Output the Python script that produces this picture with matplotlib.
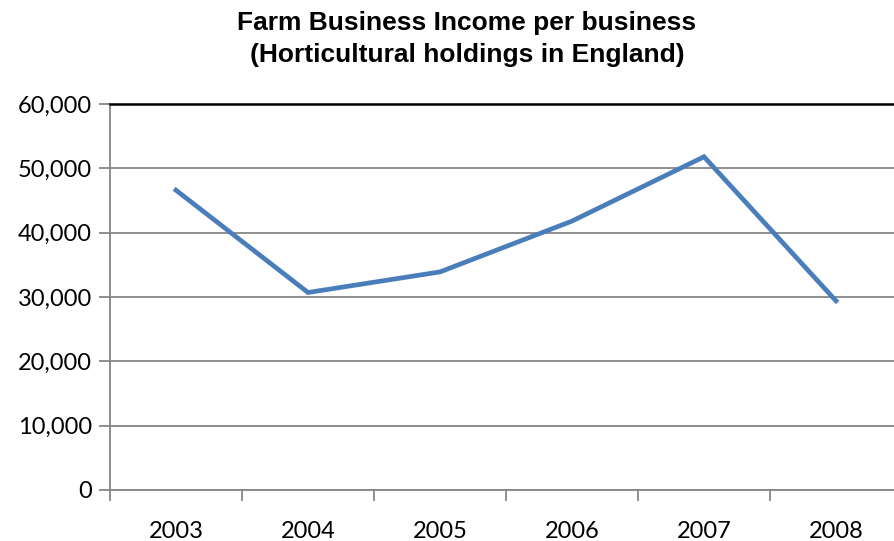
import matplotlib.pyplot as plt
from matplotlib.ticker import FuncFormatter, FixedLocator

# Data
years = ['2003', '2004', '2005', '2006', '2007', '2008']
income = [46600, 30700, 33900, 41800, 51800, 29400]

fig = plt.figure(figsize=(8.95, 5.41), dpi=100)
W, H = 895, 541
ax = fig.add_axes([110 / W, 51 / H, 792 / W, 386 / H])

x = list(range(len(years)))
ax.plot(x, income, color='#4A7EBB', linewidth=3.4, solid_joinstyle='miter')

ax.set_xlim(-0.5, len(years) - 0.5)
ax.set_ylim(0, 60000)
ax.set_yticks(range(0, 60001, 10000))
ax.yaxis.set_major_formatter(FuncFormatter(lambda v, p: f'{int(v):,}'))
ax.grid(axis='y', color='#868686', linewidth=1.3)
ax.set_axisbelow(True)

# category labels centred, tick marks between categories
ax.set_xticks(x)
ax.set_xticklabels(years)
ax.xaxis.set_minor_locator(FixedLocator([i - 0.5 for i in range(len(years) + 1)]))
ax.tick_params(axis='x', which='major', length=0, pad=22.5, labelsize=17)
ax.tick_params(axis='x', which='minor', length=8, width=1.3, color='#868686')
ax.tick_params(axis='y', length=8, width=1.3, color='#868686', pad=5, labelsize=17)
for lab in ax.get_xticklabels() + ax.get_yticklabels():
    lab.set_fontfamily('Lato')

for s in ['left', 'bottom']:
    ax.spines[s].set_color('#868686')
    ax.spines[s].set_linewidth(1.3)
ax.spines['right'].set_visible(False)
ax.spines['top'].set_color('black')
ax.spines['top'].set_linewidth(1.8)

fig.text(467 / W, 1 - 39 / H, 'Farm Business Income per business\n(Horticultural holdings in England)',
         ha='center', va='center', fontsize=19, fontweight='bold',
         family='Liberation Sans', linespacing=1.4)

fig.savefig('out.png', dpi=100)
